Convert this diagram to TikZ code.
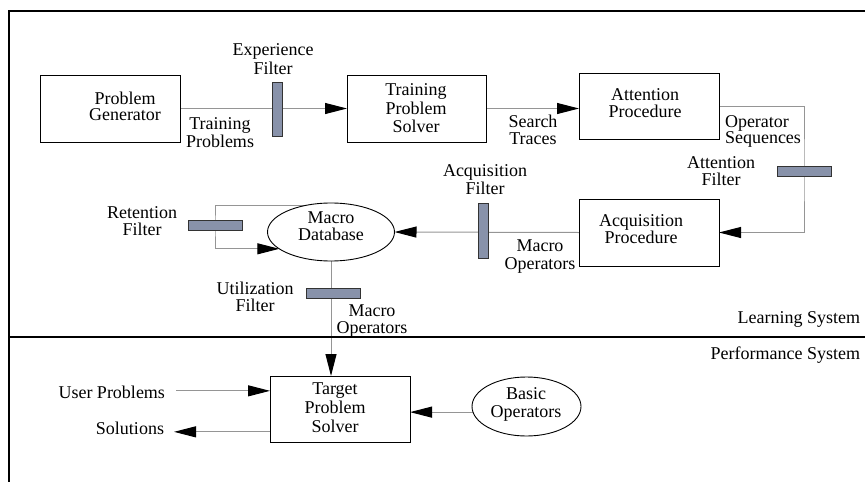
\documentclass[tikz,border=0pt]{standalone}
\usepackage{fontspec}
\setmainfont{Liberation Serif}
\usetikzlibrary{arrows.meta,shapes.geometric,calc,backgrounds}
\definecolor{filtfill}{HTML}{8892AA}
\definecolor{conncol}{HTML}{959595}
\begin{document}
\begin{tikzpicture}[x=1pt,y=-1pt,
  every node/.style={font={\fontsize{18}{18}\selectfont}, inner sep=0pt, outer sep=0pt},
  procbox/.style={draw=black, line width=0.9pt, rectangle},
  dbell/.style={draw=black, line width=0.9pt, ellipse},
  filterbar/.style={draw=black!80, fill=filtfill, line width=0.9pt, rectangle},
  lbl/.style={align=center},
  conn/.style={draw=conncol, line width=1pt},
  arr/.style={conn, -{Triangle[length=22pt,width=11pt,color=black]}},
  frame/.style={draw=black, line width=2pt}
]
\useasboundingbox (0,0) rectangle (865,482);

% frame
\draw[frame] (9,482) -- (9,11) -- (865,11);
\draw[frame] (9,337) -- (865,337);

% boxes
\node[procbox, minimum width=140pt, minimum height=67pt] (pg) at (110,108.5) {};
\node[lbl, font={\fontsize{18}{16.5}\selectfont}] (pgt) at (125,106.5) {Problem\\Generator};
\node[procbox, minimum width=139pt, minimum height=67pt] (tps) at (416.5,108.5) {};
\node[lbl, font={\fontsize{18}{18.5}\selectfont}] (tpst) at (416,108.5) {Training\\Problem\\Solver};
\node[procbox, minimum width=140pt, minimum height=66pt] (att) at (649,106) {};
\node[lbl, font={\fontsize{18}{17}\selectfont}] (attt) at (645,103.5) {Attention\\Procedure};
\node[procbox, minimum width=140pt, minimum height=67pt] (acq) at (649,232.5) {};
\node[lbl, font={\fontsize{18}{16.5}\selectfont}] (acqt) at (641,229) {Acquisition\\Procedure};
\node[procbox, minimum width=140pt, minimum height=66pt] (tgt) at (340,409) {};
\node[lbl, font={\fontsize{18}{19}\selectfont}] (tgtt) at (335,408) {Target\\Problem\\Solver};

% ellipses
\node[dbell, minimum width=127pt, minimum height=58pt] (mdb) at (331,232) {};
\node[lbl, font={\fontsize{18}{17.5}\selectfont}] (mdbt) at (331,226) {Macro\\Database};
\node[dbell, minimum width=109pt, minimum height=59pt] (bop) at (526.5,406.5) {};
\node[lbl, font={\fontsize{18}{17.5}\selectfont}] (bopt) at (526,404.5) {Basic\\Operators};

% filters
\node[filterbar, minimum width=10pt, minimum height=54pt] (expf) at (277,109) {};
\node[filterbar, minimum width=54pt, minimum height=10pt] (attf) at (804,171) {};
\node[filterbar, minimum width=10pt, minimum height=55pt] (acqf) at (483,230.5) {};
\node[filterbar, minimum width=54pt, minimum height=10pt] (retf) at (215,225) {};
\node[filterbar, minimum width=54pt, minimum height=10pt] (utlf) at (333,293) {};

% labels
\node[lbl, font={\fontsize{18}{19}\selectfont}] (expl) at (273,59.5) {Experience\\Filter};
\node[lbl] (trpl) at (220,133) {Training\\Problems};
\node[lbl, font={\fontsize{18}{17}\selectfont}] (stl) at (533,130) {Search\\Traces};
\node[lbl, align=left, anchor=west, font={\fontsize{18}{13.5}\selectfont}] (osl) at (725,131.5) {Operator\\Sequences};
\node[lbl, font={\fontsize{18}{17.5}\selectfont}] (attfl) at (721,171) {Attention\\Filter};
\node[lbl, font={\fontsize{18}{15}\selectfont}] (acqfl) at (485,179.5) {Acquisition\\Filter};
\node[lbl] (mol1) at (540,257) {Macro\\Operators};
\node[lbl, font={\fontsize{18}{17}\selectfont}] (retl) at (142,221.5) {Retention\\Filter};
\node[lbl, font={\fontsize{18}{17}\selectfont}] (utll) at (255,296.5) {Utilization\\Filter};
\node[lbl, font={\fontsize{18}{17}\selectfont}] (mol2) at (372,321.5) {Macro\\Operators};
\node[anchor=base east] (lsl) at (860,323) {Learning System};
\node[anchor=base east] (psl) at (860,359) {Performance System};
\node[anchor=base east] (up) at (165,398) {User Problems};
\node[anchor=base east] (sol) at (164,434) {Solutions};
\coordinate (upstart) at ([xshift=11pt,yshift=1pt]up.east);
\coordinate (solend) at ([xshift=10pt,yshift=-4pt]sol.east);

% connectors
\begin{pgfonlayer}{background}
\draw[arr] (pg.east) -- (tps.west);
\draw[arr] (tps.east) -- (tps.east -| att.west);
\draw[arr] (att.east) -| (attf.center) |- (acq.east);
\draw[arr] (acq.west) -- (mdb.east);
\draw[arr] (mdb.133) -| (retf.center) |- (mdb.198);
\draw[arr] (mdb.south) -- (mdb.south |- tgt.north);
\draw[arr] (upstart) -- (tgt.west |- upstart);
\draw[arr] (tgt.west |- solend) -- (solend);
\draw[arr] (bop.186) -- (tgt.east |- bop.186);
\end{pgfonlayer}
\end{tikzpicture}
\end{document}
